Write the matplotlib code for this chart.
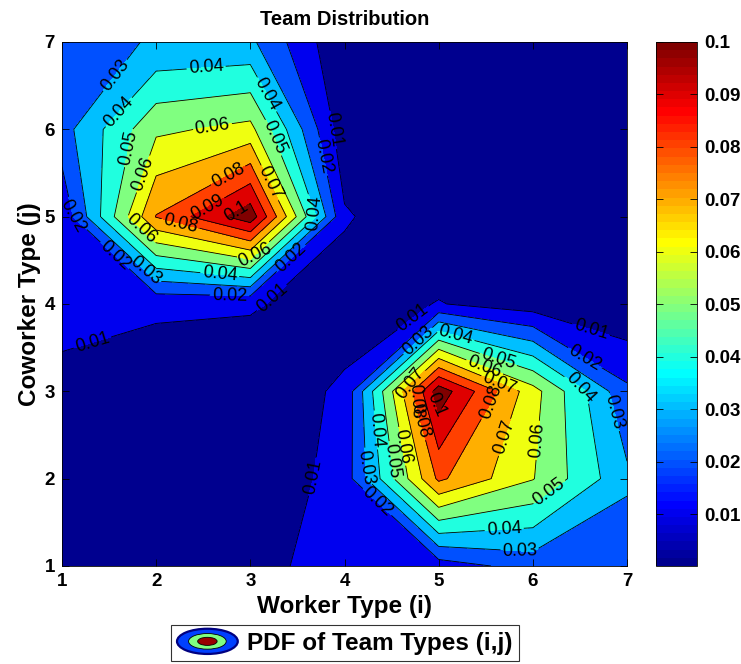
import numpy as np
import matplotlib
matplotlib.use("Agg")
import matplotlib.pyplot as plt
from matplotlib.colors import ListedColormap, Normalize
from matplotlib.cm import ScalarMappable
from matplotlib.patches import Ellipse
from matplotlib.legend_handler import HandlerBase

plt.rcParams['font.family'] = ['Liberation Sans', 'DejaVu Sans']

# Worker type i (columns) and coworker type j (rows)
worker_types = [1, 2, 3, 4, 5, 6, 7]
coworker_types = [1, 2, 3, 4, 5, 6, 7]

# PDF of team types, one list per coworker type j (values for i = 1..7)
pdf_j1 = [0.003, 0.003, 0.0078, 0.013, 0.015, 0.024, 0.022]
pdf_j2 = [0.004, 0.002, 0.001, 0.0145, 0.082, 0.0605, 0.032]
pdf_j3 = [0.0075, 0.003, 0.002, 0.012, 0.106, 0.064, 0.022]
pdf_j4 = [0.013, 0.012, 0.0112, 0.004, 0.0105, 0.0047, 0.0014]
pdf_j5 = [0.012, 0.0805, 0.1065, 0.0112, 0.0008, 0.0005, 0.0005]
pdf_j6 = [0.026, 0.058, 0.063, 0.003, 0.0003, 0.0002, 0.0002]
pdf_j7 = [0.025, 0.031, 0.032, 0.0008, 0.0002, 0.0001, 0.0001]

contour_levels = [0.01, 0.02, 0.03, 0.04, 0.05, 0.06, 0.07, 0.08, 0.09, 0.1]
cbar_ticks = [0.01, 0.02, 0.03, 0.04, 0.05, 0.06, 0.07, 0.08, 0.09, 0.1]
cbar_ticklabels = ['0.01', '0.02', '0.03', '0.04', '0.05', '0.06', '0.07', '0.08', '0.09', '0.1']


def jet64(m=64):
    """Classic 64-entry jet table."""
    n = int(np.ceil(m / 4))
    u = np.concatenate([np.arange(1, n + 1) / n, np.ones(n - 1), np.arange(n, 0, -1) / n])
    g = int(np.ceil(n / 2)) - (1 if m % 4 == 1 else 0) + np.arange(1, len(u) + 1)
    r = g + n
    b = g - n
    r = r[r <= m]
    g = g[g <= m]
    b = b[b >= 1]
    J = np.zeros((m, 3))
    J[r - 1, 0] = u[:len(r)]
    J[g - 1, 1] = u[:len(g)]
    J[b - 1, 2] = u[len(u) - len(b):]
    return J


Z = np.array([pdf_j1, pdf_j2, pdf_j3, pdf_j4, pdf_j5, pdf_j6, pdf_j7])
X, Y = np.meshgrid(worker_types, coworker_types)

J = jet64()
cmap = ListedColormap(J)
cmin, cmax = Z.min(), max(contour_levels)


def band_color(v):
    idx = int(np.floor((v - cmin) / (cmax - cmin) * len(J)))
    return J[min(max(idx, 0), len(J) - 1)]


fill_levels = [Z.min() - 1.0] + contour_levels + [Z.max() + 1.0]
fill_colors = [band_color(cmin)] + [band_color(v) for v in contour_levels]

fig = plt.figure(figsize=(7.41, 6.64), dpi=100)
ax = fig.add_axes([62 / 741, 98 / 664, 565 / 741, 524 / 664])

ax.contourf(X, Y, Z, levels=fill_levels, colors=fill_colors)
cs = ax.contour(X, Y, Z, levels=contour_levels, colors='k', linewidths=0.6)

label_spots = [
    (1.56, 6.62), (1.60, 6.20), (2.54, 6.57), (3.16, 6.39), (1.69, 5.79),
    (1.83, 5.50), (2.60, 6.02), (3.19, 5.88), (3.85, 5.99), (3.74, 5.68),
    (2.75, 5.50), (3.21, 5.39), (2.54, 5.11), (2.86, 5.04), (2.25, 4.88),
    (1.86, 4.88), (1.08, 5.00), (1.58, 4.58), (1.90, 4.39), (2.68, 4.39),
    (3.03, 4.58), (3.42, 4.54), (3.67, 5.04), (2.78, 4.08), (3.28, 4.01),
    (1.35, 3.47),
    (4.77, 3.78), (4.77, 3.59), (5.19, 3.68), (5.65, 3.42), (5.51, 3.34),
    (5.65, 3.11), (5.51, 2.90), (5.68, 2.48), (6.04, 2.44), (6.18, 1.84),
    (5.70, 1.35), (5.86, 1.10), (6.61, 3.67), (6.53, 3.34), (6.47, 2.98),
    (6.82, 2.75), (4.36, 2.56), (4.56, 2.36), (4.51, 2.21), (4.19, 2.13),
    (4.30, 1.68), (3.69, 2.02), (4.72, 3.07), (4.80, 2.90), (4.85, 2.67),
    (5.01, 2.86),
]
ax.clabel(cs, manual=label_spots, fmt='%g', fontsize=13, inline=True, inline_spacing=2)

ax.set_xlim(1, 7)
ax.set_ylim(1, 7)
ax.set_xticks(worker_types)
ax.set_yticks(coworker_types)
ax.tick_params(direction='in', top=True, right=True, length=5, width=0.6,
               labelsize=13.5, pad=5)
for lab in ax.get_xticklabels() + ax.get_yticklabels():
    lab.set_fontweight('bold')
for s in ax.spines.values():
    s.set_linewidth(0.6)

ax.set_title('Team Distribution', fontsize=14.5, fontweight='bold', pad=12)
ax.set_xlabel('Worker Type (i)', fontsize=17.5, fontweight='bold', labelpad=4)
ax.set_ylabel('Coworker Type (j)', fontsize=17.5, fontweight='bold', labelpad=3)

# colorbar showing the full colour table
cax = fig.add_axes([656 / 741, 98 / 664, 41 / 741, 524 / 664])
sm = ScalarMappable(norm=Normalize(cmin, cmax), cmap=cmap)
cb = fig.colorbar(sm, cax=cax, ticks=cbar_ticks)
cb.set_ticklabels(cbar_ticklabels)
cb.outline.set_linewidth(0.6)
cax.tick_params(direction='in', length=5, width=0.6, labelsize=13.5, left=True, right=True, pad=5)
for lab in cax.get_yticklabels():
    lab.set_fontweight('bold')


class RingHandler(HandlerBase):
    def create_artists(self, legend, orig_handle, xdescent, ydescent, width, height, fontsize, trans):
        cx = width / 2 - xdescent
        cy = height / 2 - ydescent
        rings = [(1.0, (0.0, 0.25, 1.0), (0.0, 0.0, 0.5), 1.6),
                 (0.62, (0.5, 1.0, 0.5), 'k', 0.6),
                 (0.32, (0.6, 0.0, 0.0), 'k', 0.6)]
        parts = []
        for scale, face, edge, lw in rings:
            e = Ellipse((cx, cy), width * scale, height * 1.25 * scale, facecolor=face,
                        edgecolor=edge, linewidth=lw, transform=trans)
            parts.append(e)
        return parts


proxy = object()
leg = fig.legend([proxy], ['PDF of Team Types (i,j)'], handler_map={object: RingHandler()},
                 loc='center', bbox_to_anchor=(345 / 741, 1 - 643 / 664), frameon=True,
                 fancybox=False, edgecolor='k', handlelength=2.5, handleheight=0.9,
                 handletextpad=0.4, prop={'weight': 'bold', 'size': 17.5}, borderpad=0.25,
                 borderaxespad=0)
leg.get_frame().set_linewidth(0.8)

fig.savefig('out.png', dpi=100)
